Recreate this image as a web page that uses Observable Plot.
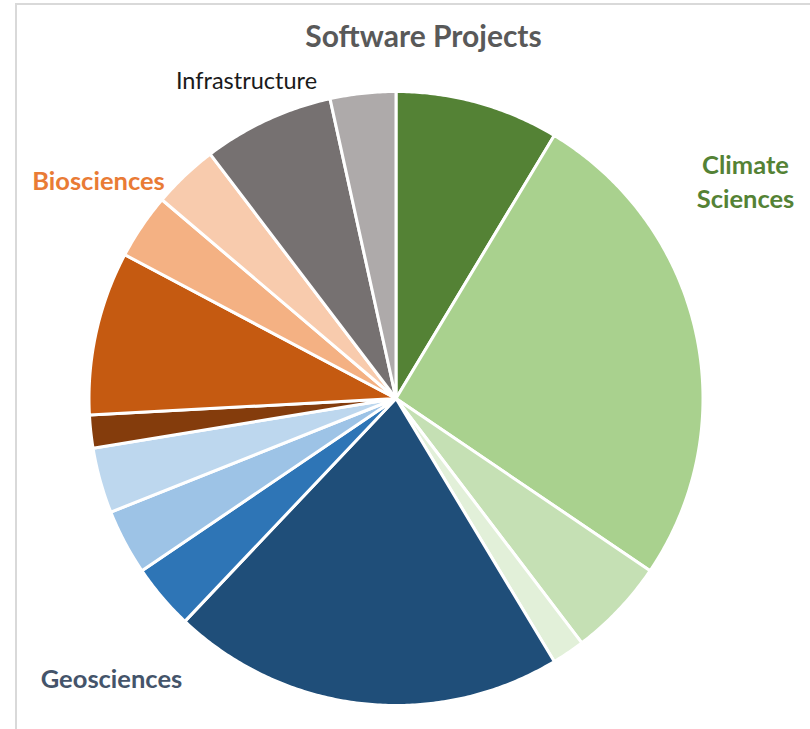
<!DOCTYPE html>
<html><head><meta charset="utf-8">
<script src="https://cdn.jsdelivr.net/npm/d3@7"></script>
<script src="https://cdn.jsdelivr.net/npm/@observablehq/plot@0.6"></script>
<style>
html,body{margin:0;padding:0;background:#fff;}
#wrap{position:relative;width:810px;height:729px;overflow:hidden;}
#frame{position:absolute;left:15px;top:3px;right:-5px;bottom:-5px;border-left:2px solid #d9d9d9;border-top:2px solid #d9d9d9;}
#chart{position:absolute;left:0;top:0;}
</style></head><body><div id="wrap"><div id="frame"></div><div id="chart"></div></div>
<script>
// Slices in clockwise order from 12 o'clock
const categories = [
  "Climate Sciences 1", "Climate Sciences 2", "Climate Sciences 3", "Climate Sciences 4",
  "Geosciences 1", "Geosciences 2", "Geosciences 3", "Geosciences 4",
  "Biosciences 1", "Biosciences 2", "Biosciences 3", "Biosciences 4",
  "Infrastructure 1", "Infrastructure 2"
];
const values = [5, 15, 3, 1, 12, 2, 2, 2, 1, 5, 2, 2, 4, 2];
const colors = [
  "#548235", "#A9D18E", "#C5E0B4", "#E2F0D9",
  "#1F4E79", "#2E75B6", "#9DC3E6", "#BDD7EE",
  "#843C0C", "#C55A11", "#F4B183", "#F8CBAD",
  "#767171", "#AEAAAA"
];
const titleText = "Software Projects";
const groupLabels = ["Climate\nSciences", "Geosciences", "Biosciences", "Infrastructure"];
const groupColors = ["#548235", "#44546A", "#E97B35", "#1a1a1a"];

// Build slice polygons (unit circle, y up, clockwise from north)
const total = d3.sum(values);
let acc = 0;
const features = values.map((v, i) => {
  const a0 = acc / total * 2 * Math.PI;
  acc += v;
  const a1 = acc / total * 2 * Math.PI;
  const n = Math.max(2, Math.ceil((a1 - a0) / (Math.PI / 360)));
  const ring = [[0, 0]];
  for (let k = 0; k <= n; k++) {
    const a = a0 + (a1 - a0) * k / n;
    ring.push([Math.sin(a), Math.cos(a)]);
  }
  ring.push([0, 0]);
  return {type: "Feature", properties: {name: categories[i]}, geometry: {type: "Polygon", coordinates: [ring]}};
});

// label layout: centre offsets (px) from the frame's top-left corner
const labelOffset = [[657, 89], [23, 588], [10, 90], [158, -10]];

const centred = {frameAnchor: "top-left", textAnchor: "middle", lineAnchor: "middle", fontFamily: "Lato"};
const labelMark = (i, opts) => Plot.text([groupLabels[i]], {
  ...centred, dx: labelOffset[i][0], dy: labelOffset[i][1],
  text: d => d, fill: groupColors[i], ...opts
});

const chart = Plot.plot({
  width: 810,
  height: 729,
  marginLeft: 88,
  marginRight: 107,
  marginTop: 91,
  marginBottom: 24,
  projection: {type: "reflect-y", domain: {type: "MultiPoint", coordinates: [[-1, -1], [1, 1]]}},
  color: {domain: categories, range: colors},
  style: {background: "transparent", overflow: "visible"},
  marks: [
    Plot.geo(features, {fill: d => d.properties.name, stroke: "white", strokeWidth: 3, strokeLinejoin: "round"}),
    Plot.text([titleText], {...centred, dx: 335, dy: -54, text: d => d, fontSize: 30, fontWeight: "bold", fill: "#595959"}),
    labelMark(0, {fontSize: 25.5, fontWeight: "bold", lineHeight: 1.32}),
    labelMark(1, {fontSize: 25.5, fontWeight: "bold"}),
    labelMark(2, {fontSize: 25.5, fontWeight: "bold"}),
    labelMark(3, {fontSize: 23.5})
  ]
});
document.getElementById("chart").appendChild(chart);
</script>
</body></html>
